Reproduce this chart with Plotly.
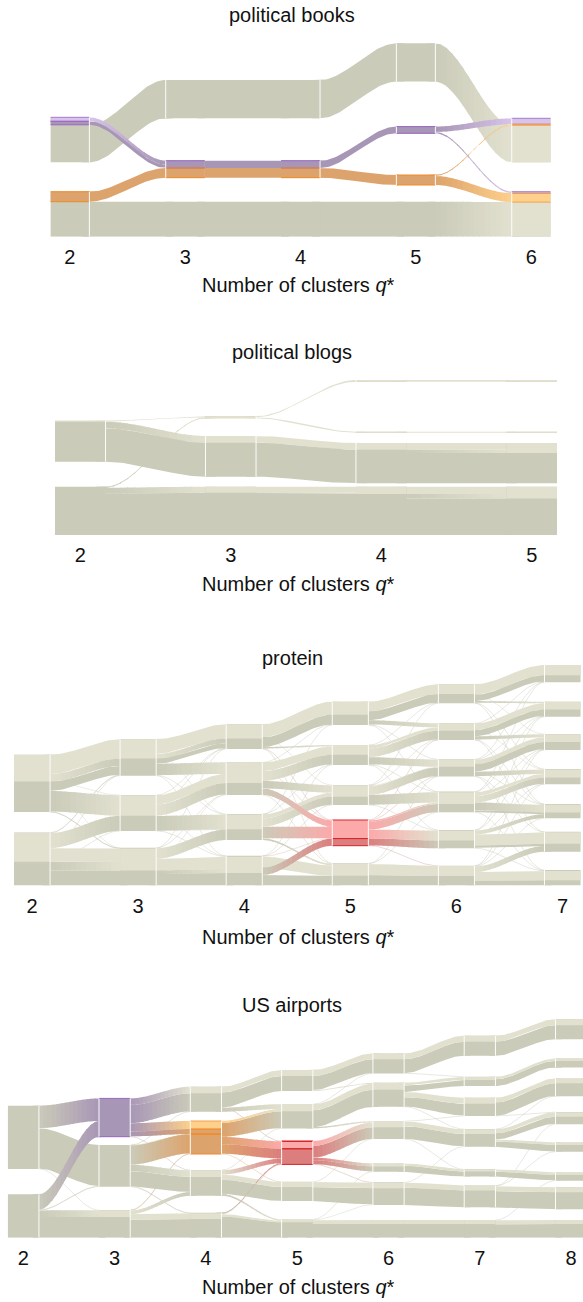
import numpy as np
import plotly.graph_objects as go
from collections import defaultdict

# Alluvial diagrams: how clusters split and merge as the number of clusters q* grows.
# Cluster sizes are listed top to bottom for every q*.
# Flows between neighbouring levels: (source cluster, target cluster, size,
#   category at source, category at target).
# Categories: D/L dark/light grey, P/p purple, O/o orange, R/r red.

# ---------------- political books ----------------
BOOKS_Q = [2, 3, 4, 5, 6]
BOOKS_SIZES = [
    [45, 45],
    [38.3, 17, 35],
    [38.3, 17, 35],
    [38.3, 6.7, 10, 35],
    [44, 45],
]
BOOKS_FLOWS = [
    [(0, 1, 4, 'p', 'P'), (0, 1, 3.5, 'P', 'P'), (0, 0, 37.5, 'D', 'D'),
     (1, 1, 10, 'O', 'O'), (1, 2, 35, 'D', 'D')],
    [(0, 0, 38.3, 'D', 'D'), (1, 1, 7.5, 'P', 'P'), (1, 1, 10, 'O', 'O'), (2, 2, 35, 'D', 'D')],
    [(0, 0, 38.3, 'D', 'D'), (1, 1, 7.5, 'P', 'P'), (1, 2, 10, 'O', 'O'), (2, 3, 35, 'D', 'D')],
    [(1, 0, 6, 'P', 'p'), (1, 1, 1.5, 'P', 'p'), (2, 0, 1, 'O', 'o'), (2, 1, 9, 'O', 'o'),
     (0, 0, 37.5, 'D', 'L'), (3, 1, 35, 'D', 'L')],
]

# ---------------- political blogs ----------------
BLOGS_Q = [2, 3, 4, 5]
BLOGS_SIZES = [
    [41, 48.3],
    [2, 40.7, 48.3],
    [1.7, 1, 40.3, 48.3],
    [1.7, 1, 40.3, 48.3],
]
BLOGS_FLOWS = [
    [(0, 0, 1, 'L', 'L'), (0, 1, 6.7, 'D', 'L'), (0, 1, 33.3, 'D', 'D'),
     (1, 0, 1, 'D', 'L'), (1, 2, 6, 'D', 'L'), (1, 2, 41.3, 'D', 'D')],
    [(0, 0, 1, 'L', 'L'), (0, 1, 1, 'L', 'L'), (1, 2, 6.7, 'L', 'L'), (1, 2, 34, 'D', 'D'),
     (2, 3, 6, 'L', 'L'), (2, 3, 1.3, 'D', 'L'), (2, 3, 41, 'D', 'D')],
    [(0, 0, 1.7, 'L', 'L'), (1, 1, 1, 'L', 'L'), (2, 2, 6.7, 'L', 'L'), (2, 2, 3.3, 'D', 'L'),
     (2, 2, 30.3, 'D', 'D'), (3, 3, 7.3, 'L', 'L'), (3, 3, 4.4, 'D', 'L'), (3, 3, 36.6, 'D', 'D')],
]

# ---------------- protein ----------------
PROTEIN_Q = [2, 3, 4, 5, 6, 7]
PROTEIN_SIZES = [
    [57.3, 53],
    [36.4, 36, 37.8],
    [24.7, 32.7, 26, 29.8],
    [23.3, 20, 20, 25.7, 22.2],
    [19, 16.7, 17.3, 20.7, 18.3, 19.8],
    [17.3, 15, 16, 15.3, 14.3, 20, 15.5],
]
PROTEIN_FLOWS = [
    [(0, 0, 19.7, 'L', 'L'), (0, 0, 7.6, 'L', 'D'), (0, 1, 0.3, 'L', 'L'), (0, 0, 9.1, 'D', 'D'),
     (0, 2, 0.3, 'L', 'L'), (0, 1, 20.9, 'D', 'L'), (0, 2, 0.3, 'D', 'L'), (0, 2, 0.3, 'D', 'D'),
     (1, 0, 0.3, 'L', 'D'), (1, 0, 0.3, 'L', 'D'), (1, 1, 15.3, 'L', 'D'), (1, 0, 0.3, 'L', 'D'),
     (1, 2, 13.7, 'L', 'L'), (1, 1, 0.3, 'D', 'L'), (1, 2, 8.6, 'D', 'L'), (1, 2, 15.4, 'D', 'D')],
    [(0, 0, 14.7, 'L', 'L'), (0, 2, 0.3, 'L', 'L'), (0, 0, 5, 'L', 'D'), (0, 0, 5, 'D', 'D'),
     (0, 1, 11.7, 'D', 'L'), (0, 2, 0.3, 'D', 'L'), (0, 3, 0.3, 'D', 'L'),
     (1, 0, 0.3, 'L', 'D'), (1, 1, 9.3, 'L', 'L'), (1, 0, 0.3, 'L', 'D'), (1, 1, 11.4, 'L', 'D'),
     (1, 3, 0.3, 'L', 'L'), (1, 2, 15, 'D', 'L'), (1, 2, 0.3, 'D', 'D'), (1, 3, 0.3, 'D', 'L'),
     (2, 1, 0.3, 'L', 'D'), (2, 0, 0.3, 'L', 'D'), (2, 2, 10.7, 'L', 'D'), (2, 1, 0.3, 'L', 'L'),
     (2, 3, 11.6, 'L', 'L'), (2, 3, 3.7, 'D', 'L'), (2, 3, 11.8, 'D', 'D')],
    [(0, 0, 13.3, 'L', 'L'), (0, 2, 0.3, 'L', 'L'), (0, 0, 10, 'D', 'D'), (0, 1, 1.4, 'D', 'L'),
     (0, 3, 0.3, 'D', 'r'), (0, 4, 0.3, 'D', 'L'),
     (1, 0, 0.3, 'L', 'D'), (1, 1, 8.6, 'L', 'L'), (1, 3, 0.3, 'L', 'r'), (1, 1, 10, 'L', 'D'),
     (1, 2, 7.6, 'D', 'L'), (1, 3, 6.5, 'D', 'r'), (1, 4, 0.3, 'D', 'L'),
     (2, 1, 0.3, 'L', 'D'), (2, 0, 0.3, 'L', 'D'), (2, 2, 4.1, 'L', 'L'), (2, 2, 8.3, 'L', 'D'),
     (2, 3, 11.8, 'D', 'r'), (2, 4, 1.8, 'D', 'L'),
     (3, 1, 0.3, 'L', 'D'), (3, 2, 0.3, 'L', 'D'), (3, 3, 0.3, 'L', 'r'), (3, 4, 11.6, 'L', 'L'),
     (3, 3, 7.4, 'D', 'R'), (3, 4, 10.8, 'D', 'D')],
    [(0, 0, 10, 'L', 'L'), (0, 0, 9, 'D', 'D'), (0, 1, 4.3, 'D', 'L'), (0, 2, 0.3, 'D', 'L'),
     (0, 3, 0.3, 'D', 'L'),
     (1, 0, 0.3, 'L', 'D'), (1, 1, 3.4, 'L', 'L'), (1, 1, 9, 'L', 'D'), (1, 2, 7.6, 'D', 'L'),
     (1, 3, 0.3, 'D', 'L'), (1, 4, 0.3, 'D', 'L'),
     (2, 0, 0.3, 'L', 'D'), (2, 1, 0.3, 'L', 'D'), (2, 2, 0.7, 'L', 'L'), (2, 2, 9, 'L', 'D'),
     (2, 3, 10.3, 'D', 'L'), (2, 4, 0.3, 'D', 'L'),
     (3, 1, 0.3, 'r', 'D'), (3, 2, 0.3, 'r', 'D'), (3, 3, 1.4, 'r', 'L'), (3, 3, 8, 'r', 'D'),
     (3, 4, 9, 'r', 'L'), (3, 4, 7.3, 'R', 'D'), (3, 5, 0.3, 'R', 'L'),
     (4, 3, 0.3, 'L', 'D'), (4, 2, 0.3, 'L', 'D'), (4, 5, 11.4, 'L', 'L'), (4, 5, 10.8, 'D', 'D')],
    [(0, 0, 10.7, 'L', 'L'), (0, 2, 0.3, 'L', 'L'), (0, 0, 6.6, 'D', 'D'), (0, 1, 1.7, 'D', 'L'),
     (0, 3, 0.3, 'D', 'L'), (0, 4, 0.3, 'D', 'L'),
     (1, 0, 0.3, 'L', 'D'), (1, 1, 6.6, 'L', 'L'), (1, 3, 0.3, 'L', 'L'), (1, 1, 6.7, 'D', 'D'),
     (1, 2, 3.4, 'D', 'L'), (1, 4, 0.3, 'D', 'L'), (1, 5, 0.3, 'D', 'L'),
     (2, 0, 0.3, 'L', 'D'), (2, 1, 0.3, 'L', 'D'), (2, 2, 4.9, 'L', 'L'), (2, 2, 7.7, 'D', 'D'),
     (2, 4, 0.3, 'D', 'L'), (2, 3, 4.7, 'D', 'L'), (2, 5, 0.3, 'D', 'L'), (2, 6, 0.3, 'D', 'L'),
     (3, 0, 0.3, 'L', 'D'), (3, 1, 0.3, 'L', 'D'), (3, 3, 4, 'L', 'L'), (3, 2, 0.3, 'L', 'D'),
     (3, 3, 6.6, 'L', 'D'), (3, 4, 8.3, 'D', 'L'), (3, 4, 1.8, 'D', 'D'), (3, 6, 0.3, 'D', 'L'),
     (4, 1, 0.3, 'L', 'D'), (4, 2, 0.3, 'L', 'D'), (4, 4, 4.2, 'L', 'D'), (4, 3, 0.3, 'L', 'D'),
     (4, 5, 11.7, 'L', 'L'), (4, 5, 2.4, 'D', 'D'), (4, 6, 0.3, 'D', 'L'),
     (5, 2, 0.3, 'L', 'D'), (5, 3, 0.3, 'L', 'D'), (5, 4, 0.3, 'L', 'D'), (5, 5, 5.9, 'L', 'D'),
     (5, 6, 9, 'L', 'L'), (5, 6, 4.9, 'D', 'D')],
]

# ---------------- US airports ----------------
AIR_Q = [2, 3, 4, 5, 6, 7, 8]
AIR_SIZES = [
    [63.3, 43.4],
    [38.3, 41.7, 27.7],
    [25, 33, 25.7, 25],
    [21, 24.3, 23.3, 19.3, 18.3],
    [20, 24, 18, 8.3, 22.7, 17.7],
    [20, 9.3, 18.3, 17.7, 7.3, 21.7, 17.7],
    [20, 9, 17.7, 12.3, 9.3, 8.3, 22, 17.7],
]
AIR_FLOWS = [
    [(0, 0, 22.6, 'D', 'P'), (0, 1, 40.7, 'D', 'D'), (0, 2, 0.3, 'D', 'L'),
     (1, 0, 15.7, 'D', 'P'), (1, 1, 0.3, 'D', 'L'), (1, 1, 0.3, 'D', 'L'), (1, 2, 6.7, 'D', 'L'),
     (1, 2, 21, 'D', 'D')],
    [(0, 0, 6.7, 'P', 'L'), (0, 0, 18.3, 'P', 'D'), (0, 1, 8.3, 'P', 'o'), (0, 1, 5, 'P', 'O'),
     (0, 2, 0.3, 'P', 'L'),
     (1, 0, 0.3, 'D', 'D'), (1, 1, 0.3, 'D', 'o'), (1, 1, 19.7, 'D', 'O'), (1, 2, 6.7, 'D', 'L'),
     (1, 2, 15.3, 'D', 'D'), (1, 3, 0.3, 'D', 'L'), (1, 3, 0.3, 'D', 'L'),
     (2, 1, 0.3, 'L', 'O'), (2, 1, 0.3, 'L', 'O'), (2, 2, 3.7, 'L', 'D'), (2, 3, 5.7, 'L', 'L'),
     (2, 3, 18.3, 'D', 'D')],
    [(0, 0, 6, 'L', 'L'), (0, 0, 15, 'D', 'D'), (0, 2, 0.3, 'D', 'R'), (0, 1, 4, 'D', 'L'),
     (1, 1, 2, 'o', 'L'), (1, 1, 14, 'O', 'D'), (1, 2, 7.3, 'O', 'r'), (1, 2, 9.7, 'O', 'R'),
     (1, 3, 0.3, 'O', 'L'),
     (2, 1, 0.3, 'L', 'D'), (2, 2, 4.5, 'L', 'R'), (2, 3, 5, 'L', 'L'), (2, 3, 14.3, 'D', 'D'),
     (2, 4, 1.9, 'D', 'L'),
     (3, 2, 1.0, 'D', 'R'), (3, 2, 0.3, 'D', 'R'), (3, 4, 2.1, 'L', 'L'), (3, 4, 21.1, 'D', 'D')],
    [(0, 0, 6, 'L', 'L'), (0, 0, 14, 'D', 'D'), (0, 1, 1, 'L', 'L'),
     (1, 0, 0.3, 'L', 'D'), (1, 1, 6, 'L', 'L'), (1, 1, 17, 'D', 'D'), (1, 2, 1.3, 'D', 'L'),
     (2, 2, 5, 'r', 'L'), (2, 2, 11.7, 'R', 'D'), (2, 3, 2.5, 'R', 'L'), (2, 3, 4.1, 'R', 'D'),
     (2, 4, 0.3, 'R', 'L'),
     (3, 2, 0.3, 'L', 'D'), (3, 4, 5, 'L', 'L'), (3, 4, 14.3, 'D', 'D'),
     (4, 3, 0.3, 'L', 'D'), (4, 4, 0.5, 'L', 'L'), (4, 5, 4, 'L', 'L'), (4, 5, 13.8, 'D', 'D')],
    [(0, 0, 6, 'L', 'L'), (0, 0, 14, 'D', 'D'), (0, 1, 0.3, 'D', 'L'),
     (1, 1, 3, 'L', 'L'), (1, 1, 6.3, 'D', 'D'), (1, 2, 5, 'L', 'L'), (1, 2, 9.7, 'D', 'D'),
     (1, 3, 0.3, 'D', 'L'),
     (2, 2, 0.3, 'L', 'D'), (2, 3, 5, 'L', 'L'), (2, 3, 13, 'D', 'D'), (2, 4, 0.3, 'D', 'L'),
     (3, 4, 2.3, 'L', 'L'), (3, 4, 6, 'D', 'D'),
     (4, 3, 0.3, 'L', 'D'), (4, 5, 5, 'L', 'L'), (4, 5, 17.7, 'D', 'D'),
     (5, 6, 4, 'L', 'L'), (5, 6, 13.7, 'D', 'D')],
    [(0, 0, 6, 'L', 'L'), (0, 0, 14, 'D', 'D'),
     (1, 1, 2.5, 'L', 'L'), (1, 1, 6.8, 'D', 'D'),
     (2, 2, 5, 'L', 'L'), (2, 2, 13.3, 'D', 'D'), (2, 3, 0.3, 'D', 'L'),
     (3, 2, 0.3, 'L', 'D'), (3, 3, 4, 'L', 'L'), (3, 3, 6.3, 'D', 'D'), (3, 4, 2, 'L', 'L'),
     (3, 4, 5.4, 'D', 'D'),
     (4, 5, 2.3, 'L', 'L'), (4, 5, 5, 'D', 'D'),
     (5, 4, 0.3, 'L', 'D'), (5, 3, 0.3, 'L', 'D'), (5, 6, 5, 'L', 'L'), (5, 6, 16.7, 'D', 'D'),
     (6, 5, 0.3, 'L', 'D'), (6, 7, 4, 'L', 'L'), (6, 7, 13.7, 'D', 'D')],
]

# ---------------- vertical layout: white space below each cluster ----------------
BOOKS_GAPS = [[29.4, 0], [42.4, 24, 0], [42.4, 24, 0], [45, 41.7, 16.7, 0], [29.4, 0]]
BLOGS_GAPS = [[25, 0], [17.7, 10, 0], [50, 10.3, 3.4, 0], [50, 10.3, 3.4, 0]]
PROTEIN_GAPS = [
    [20.4, 0],
    [19.3, 16.7, 0],
    [13.3, 19, 15.7, 0],
    [20, 20, 15, 17.6, 0],
    [20, 19.3, 15, 17.7, 17.4, 0],
    [19.4, 17.3, 19, 19.7, 13.4, 18.3, 0],
]
AIR_GAPS = [
    [25.3, 0],
    [8.3, 23.3, 0],
    [9.3, 16, 17, 0],
    [13, 12.7, 17.4, 18.3, 0],
    [9.4, 14.3, 24.3, 10.6, 15, 0],
    [21, 11.7, 13, 22.6, 9, 12.7, 0],
    [19.3, 11, 15.7, 18.3, 20.6, 6.6, 10.7, 0],
]

# ---------------- styling ----------------
FIG_W, FIG_H = 583, 1302
FONT = "Liberation Sans, Arial, Helvetica, sans-serif"
TONES = {
    'D': (203, 203, 185), 'L': (226, 225, 208),
    'P': (168, 150, 182), 'p': (216, 196, 234),
    'O': (221, 163, 108), 'o': (253, 208, 139),
    'R': (220, 126, 126), 'r': (252, 169, 169),
}
EDGES = {'P': '#9a66c2', 'p': '#a77fd0', 'O': '#f08a26', 'o': '#f5a04a',
         'R': '#d62728', 'r': '#d62728'}
GREYS = {'D', 'L'}
THIN = 0.8

PANELS = [
    dict(title="political books", q=BOOKS_Q, sizes=BOOKS_SIZES, gaps=BOOKS_GAPS, flows=BOOKS_FLOWS,
         box=(50.4, 550.7, 40.0, 236.7), xr=(1.831, 6.169), hw=0.169, title_y=15, label_y=285),
    dict(title="political blogs", q=BLOGS_Q, sizes=BLOGS_SIZES, gaps=BLOGS_GAPS, flows=BLOGS_FLOWS,
         box=(55.0, 557.0, 376.0, 535.0), xr=(1.832, 5.168), hw=0.168, title_y=352, label_y=584),
    dict(title="protein", q=PROTEIN_Q, sizes=PROTEIN_SIZES, gaps=PROTEIN_GAPS, flows=PROTEIN_FLOWS,
         box=(14.0, 583.0, 660.0, 885.5), xr=(1.83, 7.193), hw=0.170, title_y=658, label_y=937),
    dict(title="US airports", q=AIR_Q, sizes=AIR_SIZES, gaps=AIR_GAPS, flows=AIR_FLOWS,
         box=(7.7, 583.0, 1015.0, 1237.7), xr=(1.829, 8.130), hw=0.171, title_y=1005, label_y=1287),
]


def hexcol(c):
    return '#%02x%02x%02x' % tuple(int(round(v)) for v in c)


def mix(a, b, t):
    return tuple(a[i] + (b[i] - a[i]) * t for i in range(3))


def smooth(t):
    return t * t * (3 - 2 * t)


def stack(sizes, gaps):
    """(bottom, top) of every cluster, stacked upward from the baseline."""
    out = [None] * len(sizes)
    y = 0.0
    for j in range(len(sizes) - 1, -1, -1):
        b = y + gaps[j]
        out[j] = (b, b + sizes[j])
        y = b + sizes[j]
    return out


def flow_ends(boxes, flows, side):
    """Stack the flows inside each cluster from the top, scaled to fill it."""
    tot = defaultdict(float)
    for f in flows:
        tot[f[side]] += f[2]
    cursor = {j: boxes[j][1] for j in tot}
    res = []
    for f in flows:
        j = f[side]
        b, t = boxes[j]
        th = f[2] * (t - b) / tot[j]
        top = cursor[j]
        cursor[j] = top - th
        res.append((top - th, top))
    return res


def band(x0, x1, a, b, ta, tb, n, ext):
    """Ribbon between two stacked ends; the outer ends tuck under the blocks by `ext`."""
    t = np.linspace(ta, tb, n)
    s = smooth(np.clip(t, 0, 1))
    x = x0 + (x1 - x0) * t
    top = a[1] + (b[1] - a[1]) * s
    bot = a[0] + (b[0] - a[0]) * s
    if ta <= 0:
        x = np.concatenate([[x0 - ext], x]); top = np.concatenate([[top[0]], top])
        bot = np.concatenate([[bot[0]], bot])
    if tb >= 1:
        x = np.concatenate([x, [x1 + ext]]); top = np.concatenate([top, [top[-1]]])
        bot = np.concatenate([bot, [bot[-1]]])
    return np.concatenate([x, x[::-1]]), np.concatenate([top, bot[::-1]]), x, (top + bot) / 2


fig = go.Figure()

for n, cfg in enumerate(PANELS, start=1):
    xa = 'x' if n == 1 else f'x{n}'
    ya = 'y' if n == 1 else f'y{n}'
    q, hw = cfg['q'], cfg['hw']
    ext = 0.4 * hw
    boxes = [stack(s, g) for s, g in zip(cfg['sizes'], cfg['gaps'])]

    thin = defaultdict(lambda: [[], []])
    grey = defaultdict(lambda: [[], []])
    colour = defaultdict(lambda: [[], []])
    blocks = defaultdict(lambda: [[], []])
    edges = defaultdict(lambda: [[], []])
    seps = [[], []]

    def put(store, key, xs, ys):
        store[key][0].extend(list(xs) + [None])
        store[key][1].extend(list(ys) + [None])

    column_segments = []
    moving = defaultdict(bool)
    for k, flows in enumerate(cfg['flows']):
        src = flow_ends(boxes[k], flows, 0)
        dst = flow_ends(boxes[k + 1], flows, 1)
        if k == 0:
            column_segments.append([(f[0], e, f[3]) for f, e in zip(flows, src)])
        column_segments.append([(f[1], e, f[4]) for f, e in zip(flows, dst)])
        x0, x1 = q[k] + hw, q[k + 1] - hw
        for f, a, b in zip(flows, src, dst):
            c0, c1 = f[3], f[4]
            th = max(a[1] - a[0], b[1] - b[0])
            if th >= 1.5 and (abs(a[0] - b[0]) > 1.0 or abs(a[1] - b[1]) > 1.0):
                moving[(k, f[0], 'r')] = True
                moving[(k + 1, f[1], 'l')] = True
            if th < THIN:
                _, _, cx, cy = band(x0, x1, a, b, 0, 1, 40, 0)
                base = mix(TONES[c0], TONES[c1], 0.5)
                col = 'rgba(%d,%d,%d,0.7)' % tuple(int(v * 0.93) for v in base)
                put(thin, col, cx, cy)
                continue
            store = grey if (c0 in GREYS and c1 in GREYS) else colour
            if TONES[c0] == TONES[c1]:
                xs, ys, _, _ = band(x0, x1, a, b, 0, 1, 40, ext)
                put(store, hexcol(TONES[c0]), xs, ys)
            else:
                ns = 14
                for i in range(ns):
                    ta, tb = i / ns, min(1.0, (i + 1) / ns + 0.012)
                    xs, ys, _, _ = band(x0, x1, a, b, ta, tb, 6, ext)
                    col = hexcol(mix(TONES[c0], TONES[c1], (i + 0.5) / ns))
                    put(store, col, xs, ys)

    # cluster blocks at every level
    for k, segs in enumerate(column_segments):
        xl, xr = q[k] - hw, q[k] + hw
        per = defaultdict(list)
        for j, (y0, y1), cat in segs:
            if y1 - y0 < THIN and cat in GREYS:
                continue
            per[j].append([y0, y1, cat])
        for j in range(len(boxes[k])):
            lst = sorted(per[j], key=lambda s: -s[1])
            merged = []
            for s in lst:
                if merged and merged[-1][2] == s[2] and abs(merged[-1][0] - s[1]) < 1.0:
                    merged[-1][0] = s[0]
                else:
                    merged.append(list(s))
            b, t = boxes[k][j]
            put(blocks, hexcol(TONES['D']), [xl, xr, xr, xl], [b, b, t, t])
            for y0, y1, cat in merged:
                put(blocks, hexcol(TONES[cat]), [xl, xr, xr, xl], [y0, y0, y1, y1])
                if cat not in GREYS:
                    put(edges, EDGES[cat], [xl, xr], [y1, y1])
                    put(edges, EDGES[cat], [xl, xr], [y0, y0])
            # white seams only where the bundle actually bends
            if k > 0 and moving[(k, j, 'l')]:
                seps[0].extend([xl, xl, None]); seps[1].extend([b, t, None])
            if k < len(q) - 1 and moving[(k, j, 'r')]:
                seps[0].extend([xr, xr, None]); seps[1].extend([b, t, None])

    common = dict(xaxis=xa, yaxis=ya, hoverinfo='skip', showlegend=False)
    for col, (xs, ys) in thin.items():
        fig.add_trace(go.Scatter(x=xs, y=ys, mode='lines', line=dict(color=col, width=0.6), **common))
    for store in (grey, colour):
        for col, (xs, ys) in store.items():
            fig.add_trace(go.Scatter(x=xs, y=ys, mode='lines', fill='toself', fillcolor=col,
                                     line=dict(width=0, color=col), **common))
    base = hexcol(TONES['D'])
    order = [base] + [c for c in blocks if c != base]
    for col in order:
        if col in blocks:
            xs, ys = blocks[col]
            fig.add_trace(go.Scatter(x=xs, y=ys, mode='lines', fill='toself', fillcolor=col,
                                     line=dict(width=0, color=col), **common))
    for col, (xs, ys) in edges.items():
        fig.add_trace(go.Scatter(x=xs, y=ys, mode='lines', line=dict(color=col, width=1), **common))
    fig.add_trace(go.Scatter(x=seps[0], y=seps[1], mode='lines',
                             line=dict(color='rgba(255,255,255,0.95)', width=1), **common))

    px0, px1, py0, py1 = cfg['box']
    axis_x = dict(domain=[px0 / FIG_W, px1 / FIG_W], range=list(cfg['xr']), anchor=ya,
                  tickvals=q, ticktext=[str(v) for v in q], ticks='', showgrid=False,
                  zeroline=False, showline=False, fixedrange=True, ticklabelstandoff=6,
                  tickfont=dict(family=FONT, size=20, color='#111111'))
    axis_y = dict(domain=[1 - py1 / FIG_H, 1 - py0 / FIG_H], range=[0, py1 - py0], anchor=xa,
                  visible=False, fixedrange=True)
    fig.update_layout(**{('xaxis' if n == 1 else f'xaxis{n}'): axis_x,
                         ('yaxis' if n == 1 else f'yaxis{n}'): axis_y})

    fig.add_annotation(text=cfg['title'], xref='paper', yref='paper', x=292 / FIG_W,
                       y=1 - cfg['title_y'] / FIG_H, showarrow=False, xanchor='center',
                       yanchor='middle', font=dict(family=FONT, size=20, color='#111111'))
    fig.add_annotation(text='Number of clusters <i>q</i>*', xref='paper', yref='paper',
                       x=299 / FIG_W, y=1 - cfg['label_y'] / FIG_H, showarrow=False,
                       xanchor='center', yanchor='middle',
                       font=dict(family=FONT, size=20, color='#111111'))

fig.update_layout(width=FIG_W, height=FIG_H, margin=dict(l=0, r=0, t=0, b=0),
                  paper_bgcolor='white', plot_bgcolor='white', showlegend=False)
fig.write_html("out.html")
